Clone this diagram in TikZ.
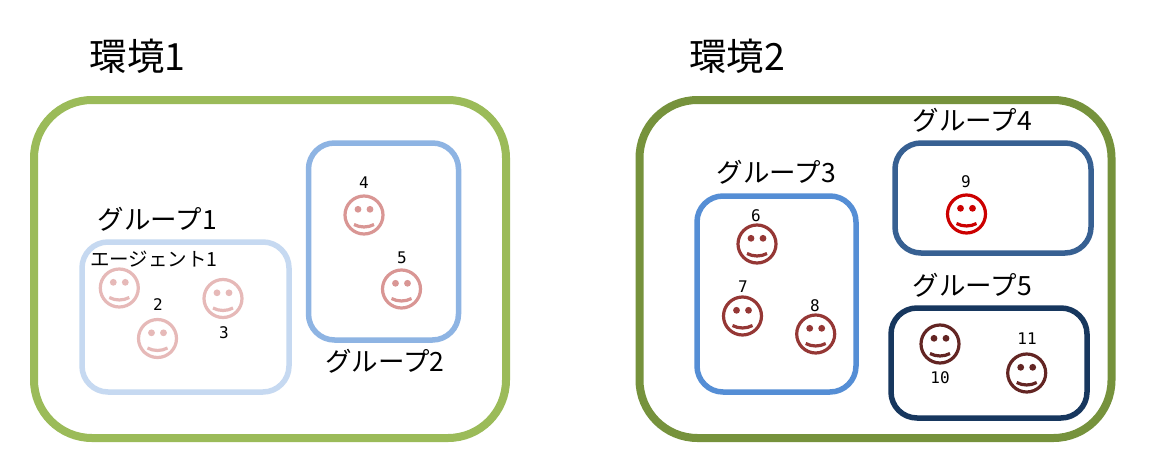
\documentclass[tikz,border=0pt]{standalone}
\usepackage{fontspec}
\setmainfont{Noto Sans CJK JP}
\newfontfamily\monodigits{DejaVu Sans Mono}
\definecolor{envA}{HTML}{9BBB59}
\definecolor{envB}{HTML}{76923C}
\definecolor{grpA}{HTML}{C6D9F1}
\definecolor{grpB}{HTML}{8EB4E3}
\definecolor{grpC}{HTML}{558ED5}
\definecolor{grpD}{HTML}{376092}
\definecolor{grpE}{HTML}{17375E}
\definecolor{faceA}{HTML}{E6B9B8}
\definecolor{faceB}{HTML}{D99694}
\definecolor{faceC}{HTML}{953735}
\definecolor{faceD}{HTML}{CC0000}
\definecolor{faceE}{HTML}{632523}
\tikzset{
  x=1pt,y=-1pt,
  envbox/.style={draw=#1,line width=8pt,rounded corners=58pt,minimum width=472pt,minimum height=338pt,inner sep=0pt},
  grpbox/.style={draw=#1,line width=5.5pt,rounded corners=26pt,inner sep=0pt},
  bigtitle/.style={font=\fontsize{37.5}{39}\selectfont,inner sep=0pt,anchor=center},
  grouplabel/.style={font=\fontsize{26.5}{28}\selectfont,inner sep=0pt,anchor=center},
  agentlabel/.style={font=\fontsize{19.5}{21}\selectfont,inner sep=0pt,anchor=center},
  numlabel/.style={font=\monodigits\fontsize{16}{18}\selectfont,inner sep=0pt,anchor=center},
  pics/smiley/.style={code={
    \draw[#1,line width=3.2pt] (0,0) circle[radius=19];
    \fill[#1] (-6,-5.7) circle[radius=3.4] (6,-5.7) circle[radius=3.4];
    \draw[#1,line width=3.2pt] (-10,9.5) .. controls (-4,12.8) and (4,12.8) .. (10,9.5);
  }}
}
\begin{document}
\begin{tikzpicture}
\useasboundingbox (0,0) rectangle (1159,474);
\fill[white] (0,0) rectangle (1159,474);
% environments
\node[envbox=envA] (env1) at (270,269) {};
\node[envbox=envB] (env2) at (875.5,269) {};
% groups
\node[grpbox=grpA,minimum width=207pt,minimum height=150pt] (g1) at (185.5,317) {};
\node[grpbox=grpB,minimum width=150pt,minimum height=197pt] (g2) at (383.5,241.5) {};
\node[grpbox=grpC,minimum width=159pt,minimum height=196pt] (g3) at (776.5,294) {};
\node[grpbox=grpD,minimum width=196pt,minimum height=110pt] (g4) at (993,198) {};
\node[grpbox=grpE,minimum width=196pt,minimum height=110pt] (g5) at (989,363) {};
% faces
\pic at (119.3,288) {smiley=faceA};
\pic at (157.5,338.5) {smiley=faceA};
\pic at (223,298.5) {smiley=faceA};
\pic at (364,215) {smiley=faceB};
\pic at (401.5,289) {smiley=faceB};
\pic at (757,244) {smiley=faceC};
\pic at (742.5,316) {smiley=faceC};
\pic at (815.7,334) {smiley=faceC};
\pic at (966.5,214) {smiley=faceD};
\pic at (940,344) {smiley=faceE};
\pic at (1026.7,373) {smiley=faceE};
% titles
\node[bigtitle] (t1) at (137.5,56) {環境1};
\node[bigtitle] (t2) at (737,56) {環境2};
\node[grouplabel] (l1) at (157.5,219) {グループ1};
\node[grouplabel] (l2) at (385,361) {グループ2};
\node[grouplabel] (l3) at (776.5,172) {グループ3};
\node[grouplabel] (l4) at (972.5,120) {グループ4};
\node[grouplabel] (l5) at (972.5,285) {グループ5};
\node[agentlabel] (a1) at (154,259.5) {エージェント1};
% numbers
\node[numlabel] (n2) at (158,304.5) {2};
\node[numlabel] (n3) at (224,332.5) {3};
\node[numlabel] (n4) at (364,182.5) {4};
\node[numlabel] (n5) at (402,257.5) {5};
\node[numlabel] (n6) at (756,215.5) {6};
\node[numlabel] (n7) at (743,286.5) {7};
\node[numlabel] (n8) at (815,305.5) {8};
\node[numlabel] (n9) at (966,181.5) {9};
\node[numlabel] (n10) at (940,377.5) {10};
\node[numlabel] (n11) at (1027,338.5) {11};
\end{tikzpicture}
\end{document}
